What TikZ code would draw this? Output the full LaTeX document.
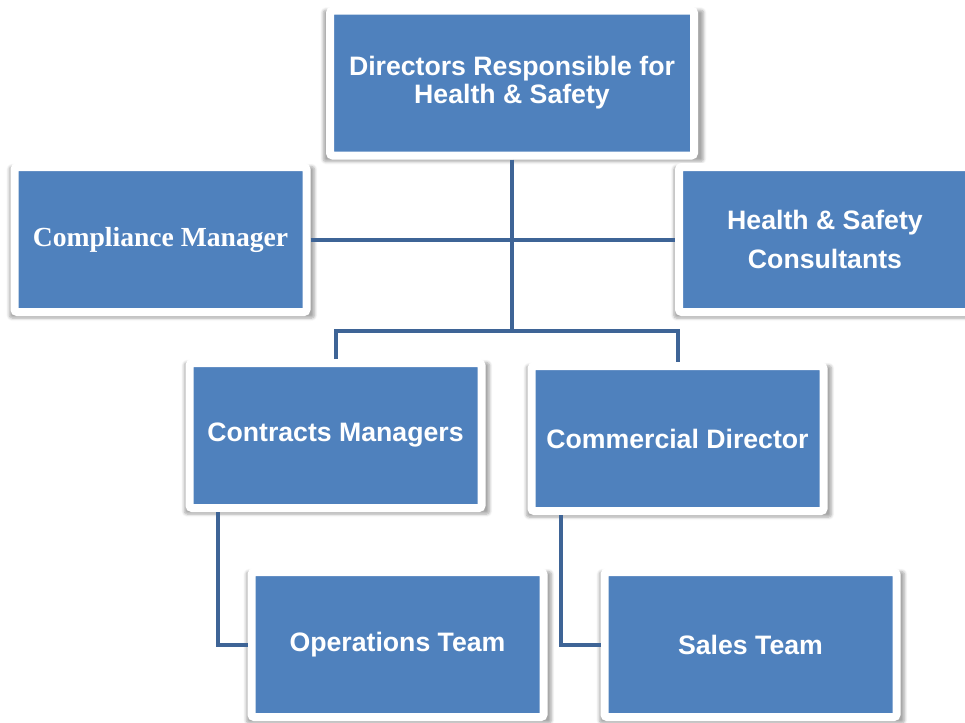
\documentclass[tikz,border=0pt]{standalone}
\usepackage{fontspec}
\setmainfont{Liberation Sans}
\newfontfamily\cambriaish{Liberation Serif}
\usetikzlibrary{shadows.blur}

\definecolor{boxblue}{RGB}{79,129,189}
\definecolor{linkblue}{RGB}{62,100,150}

\tikzset{every picture/.style={line width=0.75pt}}
\tikzset{
	orgbox/.style={fill=boxblue, draw=white, line width=6pt, rounded corners=2pt,
		minimum width=219pt, minimum height=108.75pt, inner sep=0pt,
		text=white, align=center, font=\bfseries\fontsize{20}{21}\selectfont,
		blur shadow={shadow xshift=1pt, shadow yshift=-2pt, shadow scale=1.045,
			shadow opacity=35, shadow blur steps=6}},
	orglink/.style={draw=linkblue, line width=3pt}
}

\begin{document}
\begin{tikzpicture}[x=0.75pt,y=0.75pt,yscale=-1,xscale=1]
	\useasboundingbox (0,0) rectangle (965,722);

	%Shape: Rectangle [top]
	\node[orgbox, minimum width=273pt] (directors) at (512,83) {Directors Responsible for\\Health \& Safety};
	%Shape: Rectangle [middle row]
	\node[orgbox, font=\cambriaish\bfseries\fontsize{20.7}{22}\selectfont] (compliance) at (160.5,239.5) {Compliance Manager};
	\node[orgbox, font=\bfseries\fontsize{20}{29}\selectfont] (consultants) at (825,239.5) {Health \& Safety\\Consultants};
	%Shape: Rectangle [managers]
	\node[orgbox] (contracts) at (335.5,435.5) {Contracts Managers};
	\node[orgbox] (commercial) at (677.5,438.5) {Commercial Director};
	%Shape: Rectangle [teams]
	\node[orgbox] (operations) at (397.5,644.5) {Operations Team};
	\node[orgbox] (sales) at (750.5,644.5) {Sales Team};

	%Straight Lines
	\coordinate (split) at (512,331);
	\draw[orglink] (directors.south) -- (split);
	\draw[orglink] (compliance.east) -- (consultants.west);
	\draw[orglink] (contracts.north) |- (split) -| (commercial.north);
	\draw[orglink] ([xshift=24pt]contracts.south west) |- (operations.west);
	\draw[orglink] ([xshift=25pt]commercial.south west) |- (sales.west);

\end{tikzpicture}
\end{document}
